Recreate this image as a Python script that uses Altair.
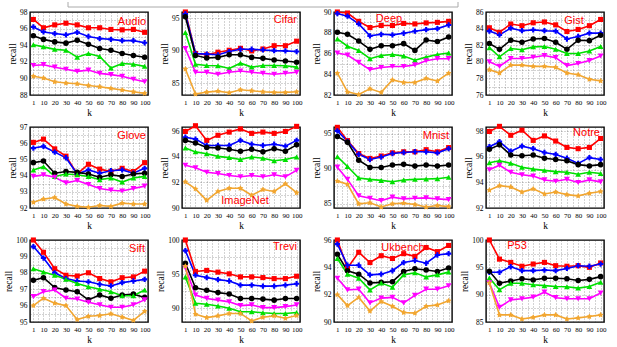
import altair as alt
import pandas as pd

K = [1, 10, 20, 30, 40, 50, 60, 70, 80, 90, 100]
METHODS = ["M1", "M2", "M3", "M4", "M5", "M6"]
COLORS = ["#ff0000", "#0000ff", "#000000", "#00e000", "#ff00ff", "#f2a630"]
STAR = ("M 0 -1 L 0.33 -0.4 L 0.95 -0.31 L 0.5 0.15 L 0.59 0.81 L 0 0.55 "
        "L -0.59 0.81 L -0.5 0.15 L -0.95 -0.31 L -0.33 -0.4 Z")
SHAPES = ["square", "cross", "circle", "triangle-up", "triangle-down", STAR]
SIZES = [26, 38, 28, 42, 42, 70]

AUDIO = [
    [97.1, 96.1, 96.45, 96.65, 96.45, 96.1, 96.1, 95.9, 95.85, 95.9, 95.55],
    [96.2, 95.6, 95.4, 95.25, 95.55, 95.05, 94.8, 94.7, 94.55, 94.55, 94.3],
    [95.15, 94.7, 94.4, 94.25, 94.6, 94.1, 93.6, 93.4, 93.0, 92.75, 92.55],
    [94.05, 93.8, 93.5, 93.4, 92.55, 93.0, 92.65, 91.25, 91.8, 91.7, 91.45],
    [91.55, 91.65, 91.35, 91.1, 90.85, 91.0, 90.6, 90.45, 90.25, 89.9, 89.6],
    [90.25, 90.05, 89.6, 89.45, 89.35, 89.15, 89.0, 88.8, 88.6, 88.4, 88.2],
]
CIFAR = [
    [96.0, 89.6, 89.4, 89.8, 90.1, 90.4, 90.0, 90.3, 90.8, 90.8, 91.5],
    [95.7, 89.6, 89.5, 89.4, 89.9, 90.25, 90.25, 90.15, 90.05, 90.0, 89.9],
    [95.25, 89.3, 88.9, 89.0, 89.4, 89.4, 89.0, 88.85, 88.6, 88.45, 88.25],
    [92.85, 87.95, 87.75, 87.7, 87.3, 88.1, 87.5, 87.75, 87.75, 87.7, 87.5],
    [90.35, 86.7, 86.7, 86.4, 86.7, 86.9, 86.7, 86.55, 86.4, 86.55, 86.7],
    [87.2, 83.35, 83.65, 83.8, 83.55, 84.0, 83.85, 83.7, 83.6, 83.6, 83.7],
]
DEEP = [
    [90.0, 89.9, 89.1, 88.5, 88.7, 88.7, 88.9, 88.85, 88.95, 89.0, 89.1],
    [89.85, 89.6, 88.85, 87.7, 87.85, 87.8, 87.95, 88.15, 88.3, 88.4, 88.75],
    [88.05, 87.85, 87.2, 86.4, 86.75, 86.75, 86.95, 86.3, 87.3, 87.15, 87.6],
    [87.4, 86.7, 86.3, 85.5, 85.8, 85.9, 85.75, 85.35, 85.65, 85.9, 86.05],
    [86.05, 85.85, 85.15, 84.45, 84.65, 84.75, 84.75, 84.9, 85.3, 85.5, 85.5],
    [84.1, 82.3, 82.05, 82.6, 82.25, 83.45, 83.2, 83.2, 83.6, 83.35, 84.1],
]
GIST = [
    [84.1, 83.55, 84.55, 84.35, 84.7, 84.8, 84.45, 83.65, 83.9, 84.35, 85.1],
    [83.7, 83.25, 84.05, 83.75, 83.85, 83.75, 83.7, 82.75, 83.05, 83.45, 83.45],
    [82.2, 81.5, 82.6, 82.35, 82.75, 82.8, 82.35, 81.5, 82.6, 82.55, 83.2],
    [81.7, 80.6, 81.6, 81.45, 81.8, 81.85, 81.5, 81.0, 81.0, 81.3, 81.85],
    [80.0, 79.45, 80.4, 80.4, 80.55, 80.75, 80.5, 79.55, 79.8, 80.15, 80.7],
    [79.05, 78.65, 79.6, 79.6, 79.45, 79.45, 79.35, 78.65, 78.45, 77.9, 77.7],
]
GLOVE = [
    [96.05, 96.25, 95.65, 95.2, 94.1, 94.7, 94.4, 94.25, 94.45, 94.25, 94.8],
    [95.7, 95.8, 95.45, 95.1, 94.1, 94.35, 94.15, 94.3, 94.35, 94.15, 94.45],
    [94.8, 94.9, 94.15, 94.25, 94.2, 94.1, 93.9, 94.05, 93.95, 94.1, 94.15],
    [94.35, 94.55, 93.95, 94.1, 94.05, 93.95, 93.75, 93.85, 93.6, 93.85, 93.95],
    [93.95, 94.05, 93.9, 93.55, 93.7, 93.45, 93.2, 93.1, 93.05, 93.2, 93.35],
    [92.35, 92.55, 92.65, 92.25, 92.1, 92.05, 92.15, 92.1, 92.3, 92.25, 92.25],
]
IMAGENET = [
    [96.0, 96.45, 95.3, 95.7, 95.95, 96.2, 95.85, 95.95, 95.85, 96.0, 96.4],
    [95.55, 95.4, 94.9, 94.9, 94.9, 95.3, 95.0, 94.9, 95.0, 94.85, 95.3],
    [95.3, 95.1, 94.75, 94.7, 94.6, 94.45, 94.6, 94.4, 94.65, 94.45, 94.95],
    [94.7, 94.4, 94.25, 94.05, 93.95, 93.8, 94.0, 93.9, 93.7, 93.8, 94.0],
    [93.35, 93.15, 92.8, 92.7, 92.55, 92.45, 92.55, 92.45, 92.6, 92.45, 92.95],
    [92.05, 91.5, 90.6, 91.3, 91.55, 91.55, 91.0, 91.45, 91.3, 91.9, 91.2],
]
MNIST = [
    [95.95, 94.05, 92.2, 91.5, 91.85, 92.3, 92.45, 92.45, 92.75, 92.45, 93.05],
    [95.45, 93.95, 92.1, 91.35, 91.7, 92.2, 92.35, 92.45, 92.45, 92.3, 92.9],
    [94.65, 93.8, 91.25, 90.2, 90.2, 90.55, 90.65, 90.4, 90.55, 90.4, 90.55],
    [91.75, 90.35, 88.7, 88.5, 88.35, 88.15, 88.4, 88.5, 88.55, 88.6, 88.8],
    [90.25, 88.5, 86.15, 85.8, 85.45, 85.95, 85.7, 85.8, 85.85, 85.7, 85.6],
    [88.25, 87.8, 85.0, 85.15, 84.55, 85.0, 85.1, 84.9, 84.55, 84.75, 84.6],
]
NOTRE = [
    [98.0, 98.4, 97.7, 98.1, 97.3, 97.65, 97.25, 96.75, 96.65, 96.75, 97.45],
    [96.8, 97.2, 96.45, 96.85, 96.65, 96.35, 96.2, 95.9, 95.5, 95.95, 95.8],
    [96.6, 96.95, 96.15, 96.1, 96.15, 95.9, 95.8, 95.7, 95.4, 95.3, 95.4],
    [95.55, 95.7, 95.5, 95.2, 95.05, 94.95, 94.85, 94.8, 94.65, 94.8, 94.7],
    [95.0, 95.35, 94.8, 94.6, 94.5, 94.2, 94.1, 94.25, 94.0, 94.2, 94.05],
    [93.4, 93.75, 93.65, 93.25, 93.5, 93.1, 93.25, 93.05, 92.95, 93.15, 93.3],
]
SIFT = [
    [100.0, 99.25, 98.25, 97.85, 97.8, 98.0, 97.65, 97.45, 97.7, 97.75, 98.1],
    [99.6, 98.9, 98.0, 97.65, 97.5, 97.45, 97.3, 97.2, 97.4, 97.5, 97.6],
    [97.55, 97.7, 97.1, 96.95, 96.85, 96.35, 96.65, 96.45, 96.65, 96.7, 96.5],
    [98.25, 98.05, 97.85, 97.6, 97.35, 97.15, 97.0, 96.85, 96.6, 96.6, 96.95],
    [96.55, 96.85, 96.95, 96.45, 96.4, 96.2, 96.05, 95.9, 95.9, 96.05, 96.35],
    [96.0, 96.45, 96.15, 96.0, 95.15, 95.35, 95.4, 95.5, 95.3, 95.1, 95.65],
]
TREVI = [
    [100.0, 95.4, 95.55, 95.3, 95.05, 94.6, 94.6, 94.5, 94.35, 94.35, 94.7],
    [98.45, 94.85, 94.5, 94.2, 94.0, 93.4, 93.4, 93.25, 93.25, 93.4, 93.6],
    [96.6, 93.0, 92.65, 92.3, 92.1, 91.45, 91.45, 91.35, 91.2, 91.45, 91.45],
    [94.6, 90.75, 90.6, 90.35, 90.0, 89.5, 89.5, 89.35, 89.25, 89.25, 89.4],
    [95.9, 91.95, 91.45, 91.2, 90.95, 90.4, 90.5, 90.1, 90.1, 90.25, 90.5],
    [96.15, 89.15, 88.65, 88.9, 89.25, 89.25, 88.15, 88.7, 88.9, 88.55, 88.95],
]
UKBENCH = [
    [96.0, 93.95, 95.1, 94.35, 94.85, 94.65, 95.0, 94.8, 95.45, 95.15, 95.6],
    [95.7, 94.15, 94.15, 93.45, 93.5, 93.75, 94.35, 94.5, 94.3, 94.9, 95.0],
    [94.95, 93.75, 93.5, 92.85, 92.9, 92.95, 93.7, 93.9, 93.8, 93.7, 93.95],
    [94.65, 93.5, 93.2, 92.35, 92.85, 92.55, 93.45, 93.6, 93.3, 93.45, 93.65],
    [93.2, 92.35, 92.4, 91.4, 91.75, 91.8, 91.4, 91.95, 92.4, 92.4, 92.65],
    [92.0, 91.2, 91.8, 90.8, 91.5, 91.15, 90.7, 90.65, 91.15, 91.25, 91.55],
]
P53 = [
    [100.0, 96.5, 95.9, 95.2, 95.6, 95.9, 95.3, 95.2, 95.3, 95.0, 95.8],
    [94.1, 94.1, 95.1, 94.4, 94.4, 94.5, 94.4, 94.8, 95.3, 95.2, 95.6],
    [94.3, 92.1, 92.5, 92.9, 92.7, 93.0, 93.0, 92.9, 92.6, 92.8, 93.3],
    [93.05, 90.9, 92.1, 92.1, 91.8, 91.65, 91.5, 91.45, 91.2, 91.5, 92.25],
    [92.15, 87.7, 89.05, 89.25, 89.55, 90.45, 89.45, 89.25, 89.25, 89.25, 90.3],
    [92.15, 86.3, 86.3, 85.55, 85.85, 86.3, 86.3, 85.55, 85.75, 86.0, 86.3],
]

W = 118
ROW_H = [83, 81, 82]
SERIF = "Liberation Serif"
SANS = "Liberation Sans"

# name, data, y-domain, label step, grid step, label x, label y (negative = from bottom), align
PANELS = [
    ("Audio", AUDIO, [88, 98], 2, 1, W - 2, 10, "right"),
    ("Cifar", CIFAR, [83.2, 96], 5, 2.5, W - 3, 8, "right"),
    ("Deep", DEEP, [82, 90], 2, 1, 55, 7, "center"),
    ("Gist", GIST, [76, 86], 2, 1, 88, 9, "center"),
    ("Glove", GLOVE, [92, 97], 1, 0.5, W - 2, 9, "right"),
    ("ImageNet", IMAGENET, [90, 96.35], 2, 1, 63, -7, "center"),
    ("Mnist", MNIST, [84.4, 96], 5, 2.5, W - 3, 9, "right"),
    ("Notre", NOTRE, [92, 98.35], 2, 1, W - 4, 6, "right"),
    ("Sift", SIFT, [95, 100], 1, 0.5, W - 3, 9, "right"),
    ("Trevi", TREVI, [88, 100], 5, 2.5, W - 3, 7, "right"),
    ("Ukbench", UKBENCH, [90, 96], 2, 1, 69, 8, "center"),
    ("P53", P53, [85, 100], 5, 2.5, 31, 6, "center"),
]

X_GRID = sorted(set(K + [5, 15, 25, 35, 45, 55, 65, 75, 85, 95]))


def grid_values(domain, step):
    vals = []
    v = step * int(domain[0] / step)
    while v <= domain[1] + 1e-9:
        if v >= domain[0] - 1e-9:
            vals.append(round(v, 3))
        v += step
    return vals


def make_panel(i, name, data, domain, lstep, gstep, lx, ly, align):
    h = ROW_H[i // 4]
    rows = []
    for m, vals in zip(METHODS, data):
        for k, r in zip(K, vals):
            rows.append({"k": k, "recall": r, "method": m})
    df = pd.DataFrame(rows)
    base = alt.Chart(df).encode(
        x=alt.X(
            "k:Q",
            scale=alt.Scale(domain=[-2, 103], nice=False, zero=False),
            axis=alt.Axis(
                values=X_GRID,
                labelExpr="(datum.value % 10 == 0 || datum.value == 1) ? datum.label : ''",
                title="k",
            ),
        ),
        y=alt.Y(
            "recall:Q",
            scale=alt.Scale(domain=domain, nice=False, zero=False),
            axis=alt.Axis(
                values=grid_values(domain, gstep),
                labelExpr=f"(abs(datum.value % {lstep}) < 0.001) ? format(datum.value, 'd') : ''",
                title="recall",
            ),
        ),
        color=alt.Color(
            "method:N", scale=alt.Scale(domain=METHODS, range=COLORS), legend=None
        ),
        order=alt.Order("k:Q"),
    )
    lines = base.mark_line(strokeWidth=1.6)
    pts = base.mark_point(filled=True, opacity=1).encode(
        shape=alt.Shape(
            "method:N", scale=alt.Scale(domain=METHODS, range=SHAPES), legend=None
        ),
        size=alt.Size(
            "method:N", scale=alt.Scale(domain=METHODS, range=SIZES), legend=None
        ),
    )
    y_pix = ly if ly >= 0 else h + ly
    lab = alt.Chart(pd.DataFrame({"t": [name]})).mark_text(
        font=SANS, fontSize=11, color="#ff0000", align=align, baseline="middle"
    ).encode(text="t:N", x=alt.value(lx), y=alt.value(y_pix))
    layers = [lines, pts, lab]
    if i == 0:
        one = pd.DataFrame({"a": [0]})
        rule = alt.Chart(one).mark_rule(color="#aaaaaa", strokeWidth=1)
        layers += [
            rule.encode(x=alt.value(38), x2=alt.value(428), y=alt.value(-5)),
            rule.encode(x=alt.value(38), y=alt.value(-10), y2=alt.value(-5)),
            rule.encode(x=alt.value(428), y=alt.value(-10), y2=alt.value(-5)),
        ]
    return alt.layer(*layers).properties(width=W, height=h)


panels = [make_panel(i, *p) for i, p in enumerate(PANELS)]

chart = (
    alt.concat(*panels, columns=4, spacing={"row": 32, "column": 34}, bounds="flush")
    .properties(padding={"left": 3, "top": 0, "right": 0, "bottom": 0})
    .configure_view(stroke="black", strokeWidth=1.4)
    .configure_axis(
        grid=True,
        gridColor="#333333",
        gridDash=[1, 2],
        gridOpacity=0.55,
        gridWidth=0.8,
        ticks=False,
        domain=False,
        labelFont=SERIF,
        labelFontSize=7.5,
        labelColor="#000000",
        labelOverlap=False,
        labelFlush=False,
        labelPadding=3,
        titleFont=SERIF,
        titleFontSize=9.5,
        titleFontWeight="normal",
        titleColor="#000000",
        titlePadding=2,
    )
    .configure_axisX(labelFontSize=7)
)

chart.save("out.html", embed_options={"renderer": "svg", "actions": False})
